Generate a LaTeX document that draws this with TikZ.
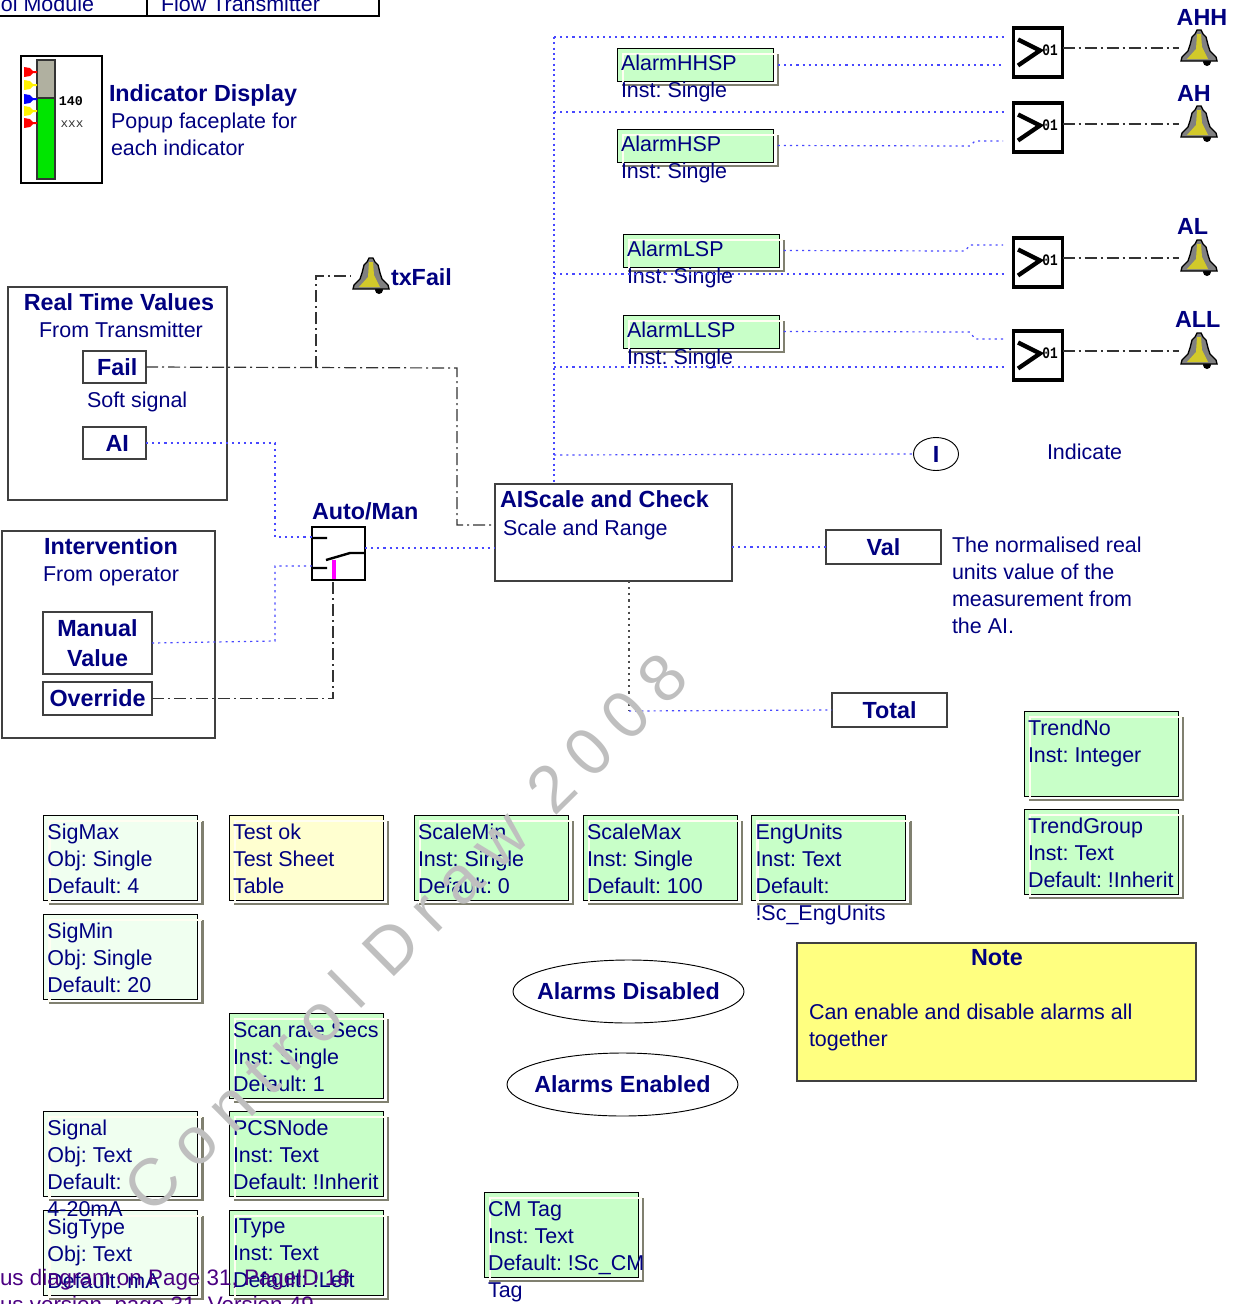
\documentclass[tikz,border=0pt]{standalone}
\usepackage{fontspec}
\setmainfont{Liberation Sans}
\newfontfamily\monofont{Liberation Mono}
\usetikzlibrary{arrows.meta,positioning,calc,shapes.geometric}
\definecolor{inknavy}{HTML}{000080}
\definecolor{inkpurple}{HTML}{4B0082}
\definecolor{sigblue}{HTML}{4848FF}
\definecolor{tagmint}{HTML}{F0FFF0}
\definecolor{tagcream}{HTML}{FFFFD0}
\definecolor{taggreen}{HTML}{C8FFC8}
\definecolor{noteyellow}{HTML}{FFFF80}
\definecolor{bevelgray}{HTML}{808070}
\definecolor{wirepink}{HTML}{FF00FF}
\newcommand{\PxUnit}{0.75pt}
\newcommand{\BodySize}{\frenchspacing\fontsize{16.1}{20.25}\selectfont}
\newcommand{\HeadSize}{\frenchspacing\fontsize{17.5}{21}\selectfont\bfseries}
\newcommand{\StampGaps}{\spaceskip=11.3pt\relax}

% text offset, name, x, y, width, height, fill, text
\newcommand{\TagBox}[8][9]{
  \node[tagbox,fill=#7,minimum width=#5*\PxUnit,minimum height=#6*\PxUnit] (#2) at (#3,#4) {};
  \draw[bevelshade] ([shift={(5,6)}]#2.north east) -- ([shift={(5,4)}]#2.south east) -- ([shift={(5,4)}]#2.south west);
  \draw[bevellight] ([shift={(6,3)}]#2.south west) -- ([shift={(6,6)}]#2.north west) -- ([shift={(4,6)}]#2.north east);
  \node[tagtext] (#2Text) at ([shift={(4,#1)}]#2.north west) {#8};
}
% name, x, y (centre)
\newcommand{\BellIcon}[3]{
  \node[bellspot] (#1) at (#2,#3) {};
  \begin{scope}[shift={(#2,#3)}]
    \fill[black] (8,14) circle (4);
    \filldraw[fill=gray,draw=black,line width=1pt] (-2,-18) -- (2,-18) -- (4,-14) -- (7,-11) -- (9,-3) -- (11,3) -- (17,9) -- (18,13) -- (-18,13) -- (-17,9) -- (-11,3) -- (-9,-3) -- (-7,-11) -- (-4,-14) -- cycle;
    \fill[yellow!80!black] (-2,-14) -- (2,-14) -- (3,-1) -- (9,11) -- (-12,11) -- (-3,1) -- cycle;
  \end{scope}
}
% name, x, y (centre)
\newcommand{\CompIcon}[3]{
  \node[compbox] (#1) at (#2,#3) {};
  \draw[line width=3.2pt,black] ($(#1.center)+(-20,-13)$) -- ($(#1.center)+(2,-2)$) -- ($(#1.center)+(-20,13)$);
  \node[compdigits,xscale=0.8,transform shape] (#1Digits) at ($(#1.center)+(12,-2.5)$) {01};
}

\begin{document}
\begin{tikzpicture}[
    x=\PxUnit,y=-\PxUnit,
    font=\BodySize,
    every node/.style={inner sep=0pt,outer sep=0pt,text=inknavy},
    tagbox/.style={rectangle,draw=black,line width=0.6pt,anchor=north west},
    tagtext/.style={anchor=north west,align=left},
    bevellight/.style={draw=white!95!yellow,line width=2pt},
    bevelshade/.style={draw=bevelgray,line width=2.2pt},
    plainframe/.style={rectangle,draw=black!75,line width=0.8pt,anchor=north west,fill=white},
    namebox/.style={rectangle,draw=black!75,line width=0.8pt,anchor=north west,fill=white,align=center,font=\HeadSize},
    headtext/.style={font=\HeadSize},
    bodytext/.style={anchor=west,align=left},
    roundflag/.style={ellipse,draw=black,line width=0.7pt,font=\HeadSize,fill=white},
    bellspot/.style={rectangle,minimum width=40*\PxUnit,minimum height=36*\PxUnit},
    compbox/.style={rectangle,draw=black,line width=2.7pt,minimum size=49*\PxUnit},
    compdigits/.style={font=\monofont\bfseries\fontsize{12}{12}\selectfont,text=black},
    sigline/.style={draw=sigblue,line width=0.9pt,dash pattern=on 1.6pt off 3pt},
    trunkline/.style={draw=sigblue,line width=1.3pt,dash pattern=on 1.6pt off 2.4pt},
    ctlline/.style={draw=black!80,line width=0.9pt,dash pattern=on 9pt off 3pt on 1.5pt off 3pt},
    grayline/.style={draw=black!70,line width=0.9pt,dash pattern=on 1.6pt off 3pt},
  ]
  \useasboundingbox (0,0) rectangle (1241,1304);

  % clipped table at the top
  \node[rectangle,draw=black,line width=1.8pt,anchor=south west,minimum width=170*\PxUnit,minimum height=40*\PxUnit] (cellModule) at (-23,16) {};
  \node[rectangle,draw=black,line width=1.8pt,anchor=south west,minimum width=232*\PxUnit,minimum height=40*\PxUnit] (cellTransmitter) at (147,16) {};
  \node[anchor=east] (moduleText) at (94,4) {ol Module};
  \node[anchor=west] (transmitterText) at (161,4) {Flow Transmitter};

  % indicator faceplate
  \node[rectangle,draw=black,line width=1.5pt,anchor=north west,minimum width=81*\PxUnit,minimum height=127*\PxUnit] (faceplate) at (21,56) {};
  \node[rectangle,draw=black!80,line width=1.1pt,fill=green!90!black,anchor=north west,minimum width=18*\PxUnit,minimum height=119*\PxUnit] (faceBar) at (37,60) {};
  \node[rectangle,draw=black!80,line width=1.5pt,fill={rgb,255:red,176;green,176;blue,160},anchor=north west,minimum width=18*\PxUnit,minimum height=38*\PxUnit] (faceTop) at (37,60) {};
  \foreach \y/\c in {72/red,85/yellow,99/blue,111/yellow,123/red}
    \fill[\c] (24,\y-5) -- (30,\y-4) -- (33,\y-1) -- (37,\y-1) -- (37,\y+1) -- (33,\y+1) -- (30,\y+4) -- (24,\y+5) -- cycle;
  \node[font=\monofont\bfseries\fontsize{10}{10}\selectfont,text=black] (faceValue) at (71,101) {140};
  \node[font=\monofont\fontsize{9.5}{10}\selectfont,text=black!80] (faceUnits) at (72,124) {xxx};
  \node[headtext,anchor=west] (faceHead) at (109,95) {Indicator Display};
  \node[bodytext] (faceBody) at (111,134.5) {Popup faceplate for\\each indicator};

  % real time values
  \node[plainframe,minimum width=219*\PxUnit,minimum height=213*\PxUnit] (realFrame) at (8,287) {};
  \node[headtext] (realHead) at (119,302) {Real Time Values};
  \node (realSub) at (121,330) {From Transmitter};
  \node[namebox,minimum width=63*\PxUnit,minimum height=32*\PxUnit] (failBox) at (83,351) {\hspace*{4pt}Fail};
  \node[bodytext] (softText) at (87,402) {Soft signal};
  \node[namebox,minimum width=63*\PxUnit,minimum height=32*\PxUnit] (aiBox) at (83,427) {\hspace*{4pt}AI};

  % intervention
  \node[plainframe,minimum width=213*\PxUnit,minimum height=207*\PxUnit] (manFrame) at (2,531) {};
  \node[headtext] (manHead) at (111,546) {Intervention};
  \node (manSub) at (111,576) {From operator};
  \node[namebox,minimum width=109*\PxUnit,minimum height=62*\PxUnit,text width=105*\PxUnit] (manualBox) at (43,612) {Manual\\[1.5pt]Value};
  \node[namebox,minimum width=109*\PxUnit,minimum height=33*\PxUnit] (overrideBox) at (43,682) {Override};

  % auto man switch
  \node[headtext,anchor=west] (switchHead) at (312,511) {Auto/Man};
  \node[rectangle,draw=black,line width=0.9pt,fill=white,anchor=north west,minimum size=53*\PxUnit] (switchBox) at (312,527) {};
  \coordinate (switchInA) at (312,537);
  \coordinate (switchInB) at (312,566);
  \coordinate (switchPin) at (333,580);
  \coordinate (switchOut) at (365,548);
  \draw[line width=1.8pt] (312,538) -- (327,538) (312,568) -- (327,568) (326,560) -- (350,553) -- (365,553);
  \draw[wirepink,line width=2.4pt] (334,560) -- (334,579);

  % scaling block
  \node[plainframe,minimum width=237*\PxUnit,minimum height=97*\PxUnit] (scaleBlock) at (495,484) {};
  \node[headtext,anchor=west] (scaleHead) at (500,499) {AIScale and Check};
  \node[bodytext] (scaleBody) at (503,530) {Scale and Range};
  \coordinate (scaleInFail) at (495,525);
  \coordinate (scaleOut) at (629,581);
  \coordinate (totalJoin) at (629,711);
  \coordinate (trunkBase) at (554,484);

  % outputs
  \node[namebox,minimum width=115*\PxUnit,minimum height=34*\PxUnit] (valBox) at (826,530) {Val};
  \node[bodytext] (valText) at (952,585.5) {The normalised real\\units value of the\\measurement from\\the AI.};
  \node[namebox,minimum width=115*\PxUnit,minimum height=34*\PxUnit] (totalBox) at (832,693) {Total};
  \node[roundflag,minimum width=45*\PxUnit,minimum height=33*\PxUnit] (indicateFlag) at (936,454) {I};
  \node[bodytext] (indicateText) at (1047,452) {Indicate};

  % alarm set points
  \TagBox[6.5]{alarmHH}{617}{48}{156}{33}{taggreen}{AlarmHHSP\\Inst: Single}
  \TagBox[6.5]{alarmH}{617}{129}{156}{33}{taggreen}{AlarmHSP\\Inst: Single}
  \TagBox[6.5]{alarmL}{623}{234}{156}{33}{taggreen}{AlarmLSP\\Inst: Single}
  \TagBox[6.5]{alarmLL}{623}{315}{156}{33}{taggreen}{AlarmLLSP\\Inst: Single}

  % comparators and bells
  \CompIcon{compAHH}{1038}{52.5}
  \CompIcon{compAH}{1038}{127.5}
  \CompIcon{compAL}{1038}{262.5}
  \CompIcon{compALL}{1038}{355.5}
  \BellIcon{bellAHH}{1199}{48}
  \BellIcon{bellAH}{1199}{124}
  \BellIcon{bellAL}{1199}{258}
  \BellIcon{bellALL}{1199}{351}
  \BellIcon{bellFail}{371}{276}
  \node[headtext] (labelAHH) at (1202,17) {AHH};
  \node[headtext,anchor=west] (labelAH) at (1177,93) {AH};
  \node[headtext,anchor=west] (labelAL) at (1177,226) {AL};
  \node[headtext,anchor=west] (labelALL) at (1175,319) {ALL};
  \node[headtext,anchor=west] (labelFail) at (391,277) {txFail};

  % bus points
  \coordinate (busHH) at (554,37);
  \coordinate (busH) at (554,112);
  \coordinate (busL) at (554,274);
  \coordinate (busLL) at (554,367);
  \coordinate (busI) at (554,455);
  \coordinate (failBranch) at (316,368);
  \foreach \n/\b/\c/\y/\m in {a/busHH/compAHH/37/65,b/busH/compAH/112/141,c/busL/compAL/274/245,d/busLL/compALL/367/339}{
    \coordinate (in\n A) at (1005,\y);
    \coordinate (in\n B) at (1003,\m);
    \draw[sigline] (\b) -- (in\n A);
  }
  \draw[trunkline] (busHH) -- (trunkBase);
  \draw[sigline] (busI) -- (indicateFlag.west);
  \coordinate (outHH) at (778,65);
  \draw[sigline] (outHH) -- (inaB);
  \draw[sigline,shorten <=3.5pt] (alarmH.east) -- (970,146) -- (975,141) -- (inbB);
  \draw[sigline,shorten <=3.5pt] (alarmL.east) -- (965,251) -- (970,245) -- (incB);
  \draw[sigline,shorten <=3.5pt] (alarmLL.east) -- (970,332) -- (975,339) -- (indB);

  \foreach \c/\b in {compAHH/bellAHH,compAH/bellAH,compAL/bellAL,compALL/bellALL}
    \draw[ctlline] (\b.west -| \c.east) -- (\b.west);

  % signals into the block
  \draw[sigline] (aiBox.east) -- (275,443) |- (switchInA);
  \draw[sigline] (manualBox.east) -- (275,641) |- (switchInB);
  \draw[sigline] (switchOut) -- (scaleBlock.west |- switchOut);
  \draw[ctlline] (overrideBox.east) -| (switchPin);
  \draw[ctlline] (failBox.east) -- (457,368) |- (scaleInFail);
  \draw[ctlline] (failBranch) |- (bellFail.west);
  \draw[sigline] (scaleBlock.east |- valBox.west) -- (valBox.west);
  \draw[grayline] (scaleOut) -- (totalJoin);
  \draw[sigline] (totalJoin) -- (totalBox.west);

  % parameter tags
  \TagBox{sigMax}{43.5}{815}{154}{85}{tagmint}{SigMax\\Obj: Single\\Default: 4}
  \TagBox{testOk}{229}{815}{154}{85}{tagcream}{Test ok\\Test Sheet\\Table}
  \TagBox{scaleMin}{414}{815}{154}{85}{taggreen}{ScaleMin\\Inst: Single\\Default: 0}
  \TagBox{scaleMax}{583}{815}{154}{85}{taggreen}{ScaleMax\\Inst: Single\\Default: 100}
  \TagBox{engUnits}{751.5}{815}{154}{85}{taggreen}{EngUnits\\Inst: Text\\Default:\\!Sc\_EngUnits}
  \TagBox{sigMin}{43.5}{914}{154}{85}{tagmint}{SigMin\\Obj: Single\\Default: 20}
  \TagBox{scanRate}{229}{1013}{154}{85}{taggreen}{Scan rate Secs\\Inst: Single\\Default: 1}
  \TagBox{sigType}{43.5}{1210}{154}{85}{tagmint}{SigType\\Obj: Text\\Default: mA}
  \TagBox{signal}{43.5}{1111}{154}{85}{tagmint}{Signal\\Obj: Text\\Default:\\4-20mA}
  \TagBox{pcsNode}{229}{1111}{154}{85}{taggreen}{PCSNode\\Inst: Text\\Default: !Inherit}
  \TagBox{iType}{229}{1210}{154}{85}{taggreen}{IType\\Inst: Text\\Default: !Left}
  \TagBox{cmTag}{484}{1192}{154}{85}{taggreen}{CM Tag\\Inst: Text\\Default: !Sc\_CM\\Tag}
  \TagBox{trendNo}{1024}{711}{154}{85}{taggreen}{TrendNo\\Inst: Integer}
  \TagBox{trendGroup}{1024}{809}{154}{85}{taggreen}{TrendGroup\\Inst: Text\\Default: !Inherit}

  % alarm states and note
  \node[roundflag,inner xsep=-10pt,minimum width=231*\PxUnit,minimum height=63*\PxUnit] (alarmsOff) at (628.5,991.5) {\raisebox{-1.5pt}{Alarms Disabled}};
  \node[roundflag,inner xsep=-10pt,minimum width=231*\PxUnit,minimum height=63*\PxUnit] (alarmsOn) at (622.5,1084.5) {\raisebox{-1.5pt}{Alarms Enabled}};
  \node[plainframe,fill=noteyellow,minimum width=399*\PxUnit,minimum height=138*\PxUnit] (noteBox) at (797,943) {};
  \node[headtext] (noteHead) at (997,958) {Note};
  \node[bodytext] (noteBody) at (809,1027.5) {Can enable and disable alarms all\\together};

  % page links at the foot
  \node[anchor=west,text=inkpurple,font=\frenchspacing\fontsize{16.8}{20}\selectfont] (pageLinkA) at (0,1280) {us diagram on Page 31, PageID 18};
  \node[anchor=west,text=inkpurple,font=\frenchspacing\fontsize{16.8}{20}\selectfont] (pageLinkB) at (0,1307) {us version, page 31, Version 49};

  % watermark
  \node[rotate=44.7,text=black!25,font=\fontsize{50}{50}\selectfont] (stamp) at (405,932) {\StampGaps C o n t r o l~~D r a w~~2 0 0 8};
\end{tikzpicture}
\end{document}
